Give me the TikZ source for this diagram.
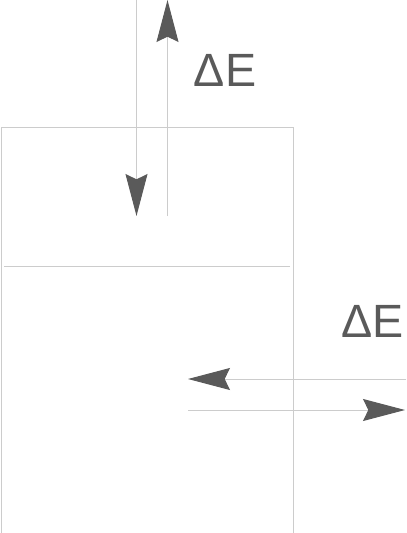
\documentclass[tikz,border=0pt]{standalone}
\usepackage{fontspec}
\setmainfont{Liberation Sans}
\usetikzlibrary{arrows.meta}
\definecolor{wallgray}{HTML}{CCCCCC}
\definecolor{inkgray}{HTML}{5A5A5A}
\tikzset{
  wall/.style={draw=wallgray, line width=0.75pt},
  flow/.style={draw=wallgray, line width=0.75pt,
    -{Stealth[length=31.5pt, width=16.5pt, inset=4pt, color=inkgray]}},
  deltalabel/.style={text=inkgray, inner sep=0pt,
    font=\fontsize{35}{35}\selectfont}
}
\begin{document}
\begin{tikzpicture}[x=0.75pt, y=-0.75pt]
  \useasboundingbox (0,0) rectangle (407,533);
  \draw[wall] (1,533) -- (1,127) -- (293,127) -- (293,533);
  \draw[wall] (4,266) -- (290,266);
  \coordinate (downtop) at (136.5,0);
  \coordinate (downtip) at (136.5,216);
  \coordinate (upfoot) at (167.5,216);
  \coordinate (uptip) at (167.5,0);
  \coordinate (lefttail) at (406,379);
  \coordinate (lefttip) at (188,379);
  \coordinate (righttail) at (188,410);
  \coordinate (righttip) at (405,410);
  \draw[flow] (downtop) -- (downtip);
  \draw[flow] (upfoot) -- (uptip);
  \draw[flow] (lefttail) -- (lefttip);
  \draw[flow] (righttail) -- (righttip);
  \node[deltalabel] (dEtop) at (225,70) {ΔE};
  \node[deltalabel] (dEside) at (372.5,321) {ΔE};
\end{tikzpicture}
\end{document}
